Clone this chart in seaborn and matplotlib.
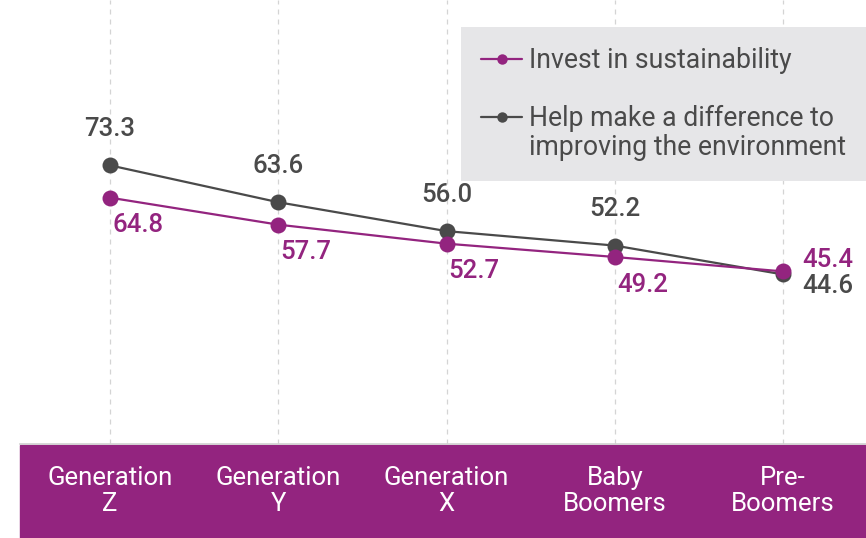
import matplotlib
matplotlib.use("Agg")
import matplotlib.pyplot as plt
from matplotlib.patches import Rectangle
from matplotlib.lines import Line2D
from matplotlib.legend_handler import HandlerLine2D
import pandas as pd
import seaborn as sns

generations = ["Generation\nZ", "Generation\nY", "Generation\nX", "Baby\nBoomers", "Pre-\nBoomers"]
invest = [64.8, 57.7, 52.7, 49.2, 45.4]
difference = [73.3, 63.6, 56.0, 52.2, 44.6]
series_names = ["Invest in sustainability",
                "Help make a difference to\nimproving the environment"]

PURPLE = "#93247f"
GREY = "#4a4a4a"

sns.set_style("white")
plt.rcParams["font.family"] = ["Roboto", "DejaVu Sans"]

df = pd.DataFrame({
    "Generation": generations * 2,
    "Value": difference + invest,
    "Series": [series_names[1]] * 5 + [series_names[0]] * 5,
})

fig = plt.figure(figsize=(8.66, 5.38), dpi=100)
ax = fig.add_axes([20 / 866, 94 / 538, 846 / 866, 444 / 538])

# purple band for category labels
fig.patches.append(Rectangle((20 / 866, 0), 846 / 866, 93 / 538,
                             transform=fig.transFigure, color=PURPLE, zorder=-1))

sns.lineplot(data=df, x="Generation", y="Value", hue="Series",
             palette={series_names[0]: PURPLE, series_names[1]: GREY},
             marker="o", markersize=11.5, markeredgewidth=0, linewidth=1.6,
             legend=False, ax=ax)

for x in range(len(generations)):
    ax.axvline(x, color="#d4d4d4", linestyle=(0, (4, 4)), linewidth=0.9, zorder=0)

# value labels
fs = 18.5
last = len(generations) - 1
for i, (a, b) in enumerate(zip(invest, difference)):
    if i == last:
        ax.annotate(f"{a:.1f}", (i, a), xytext=(14, 8), textcoords="offset points",
                    ha="left", va="center", color=PURPLE, fontsize=fs, fontweight="medium")
        ax.annotate(f"{b:.1f}", (i, b), xytext=(14, -8.5), textcoords="offset points",
                    ha="left", va="center", color=GREY, fontsize=fs, fontweight="medium")
    else:
        ax.annotate(f"{a:.1f}", (i, a), xytext=(20, -20), textcoords="offset points",
                    ha="center", va="center", color=PURPLE, fontsize=fs, fontweight="medium")
        ax.annotate(f"{b:.1f}", (i, b), xytext=(0, 26), textcoords="offset points",
                    ha="center", va="center", color=GREY, fontsize=fs, fontweight="medium")

ax.set_xlim(-0.535, 4.493)
ax.set_ylim(0, 116.8)
ax.set_yticks([])
ax.set_xlabel("")
ax.set_ylabel("")
ax.tick_params(axis="x", length=0, pad=16, colors="white", labelsize=fs)
for lab in ax.get_xticklabels():
    lab.set_linespacing(1.1)
for side in ["top", "left", "right"]:
    ax.spines[side].set_visible(False)
ax.spines["bottom"].set_color("#cfcfcf")
ax.spines["bottom"].set_linewidth(1.2)


class TopLineHandler(HandlerLine2D):
    # put the marker next to the first line of a two-line label
    def __init__(self, shift=0, **kw):
        super().__init__(**kw)
        self.shift = shift

    def create_artists(self, legend, orig_handle, xdescent, ydescent, width,
                       height, fontsize, trans):
        return super().create_artists(legend, orig_handle, xdescent,
                                      ydescent - 2 * self.shift, width, height,
                                      fontsize, trans)


lfs = 19.2
handles = [Line2D([], [], color=PURPLE, marker="o", markersize=7.5, linewidth=1.6, markeredgewidth=0),
           Line2D([], [], color=GREY, marker="o", markersize=7.5, linewidth=1.6, markeredgewidth=0)]
leg = ax.legend(handles, series_names, loc="upper right",
                bbox_to_anchor=(1.0, 1 - 27 / 538), bbox_transform=fig.transFigure,
                borderaxespad=0, frameon=True, facecolor="#e6e6e8", edgecolor="none",
                fancybox=False, framealpha=1, fontsize=lfs, handlelength=1.55,
                handletextpad=0.25, labelspacing=1.15, borderpad=0.75, labelcolor=GREY,
                handler_map={handles[1]: TopLineHandler(shift=12.5)})
for t in leg.get_texts():
    t.set_linespacing(1.1)

fig.savefig("out.png", dpi=100)
